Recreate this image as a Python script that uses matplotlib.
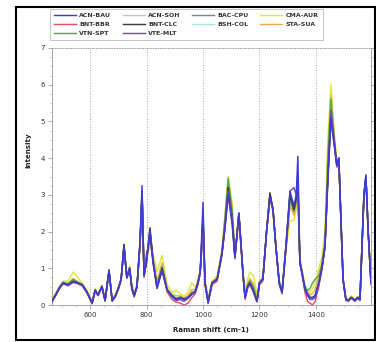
import matplotlib
matplotlib.use("Agg")
import matplotlib.pyplot as plt
from matplotlib.patches import Rectangle
from matplotlib.ticker import MultipleLocator

# Raman shift grid shared by all spectra (cm-1)
raman_shift = [465, 480, 490, 504, 522, 540, 556, 572, 589, 607,
               618, 628, 642, 653, 667, 678, 690, 700, 710, 720,
               730, 740, 748, 756, 766, 777, 784, 791, 800, 812,
               823, 837, 855, 873, 890, 905, 919, 933, 947, 960,
               972, 982, 990, 1000, 1007, 1018, 1032, 1050, 1067, 1078,
               1089, 1103, 1113, 1127, 1142, 1149, 1158, 1166, 1178, 1191,
               1200, 1212, 1225, 1237, 1248, 1258, 1270, 1280, 1294, 1308,
               1322, 1330, 1336, 1343, 1350, 1361, 1370, 1379, 1388, 1397,
               1410, 1421, 1432, 1442, 1453, 1464, 1474, 1481, 1490, 1496,
               1506, 1515, 1525, 1538, 1548, 1556, 1563, 1570, 1577, 1585, 1595]

acn_bau = [0.10, 0.30, 0.45, 0.58, 0.55, 0.62, 0.60, 0.55, 0.35, 0.05,
           0.40, 0.27, 0.50, 0.12, 0.95, 0.12, 0.25, 0.45, 0.70, 1.60,
           0.75, 1.00, 0.45, 0.25, 0.50, 1.80, 3.25, 0.80, 1.20, 2.00,
           1.15, 0.45, 0.95, 0.40, 0.25, 0.15, 0.20, 0.15, 0.20, 0.30,
           0.35, 0.60, 0.90, 2.80, 0.60, 0.05, 0.60, 0.70, 1.40, 2.10,
           3.00, 2.20, 1.30, 2.50, 0.80, 0.20, 0.50, 0.60, 0.40, 0.10,
           0.60, 0.70, 2.00, 2.95, 2.60, 1.60, 0.60, 0.35, 1.60, 3.10,
           2.70, 3.00, 4.05, 1.10, 0.90, 0.45, 0.30, 0.20, 0.20, 0.25,
           0.60, 1.00, 1.60, 3.40, 5.10, 4.40, 3.80, 4.00, 2.00, 0.70,
           0.15, 0.12, 0.20, 0.12, 0.20, 0.15, 1.60, 3.00, 3.55, 2.00, 0.60]

acn_soh = [0.10, 0.32, 0.45, 0.60, 0.55, 0.68, 0.62, 0.55, 0.35, 0.08,
           0.40, 0.27, 0.50, 0.12, 0.92, 0.15, 0.25, 0.45, 0.70, 1.60,
           0.75, 1.00, 0.45, 0.25, 0.50, 1.70, 3.05, 0.85, 1.20, 2.00,
           1.20, 0.55, 1.05, 0.40, 0.25, 0.18, 0.20, 0.15, 0.22, 0.35,
           0.38, 0.60, 0.90, 2.30, 0.60, 0.12, 0.60, 0.70, 1.40, 2.20,
           3.20, 2.40, 1.30, 2.45, 0.80, 0.22, 0.50, 0.65, 0.42, 0.12,
           0.60, 0.70, 2.00, 3.00, 2.60, 1.60, 0.60, 0.35, 1.60, 2.90,
           2.60, 2.80, 3.20, 1.20, 0.90, 0.45, 0.30, 0.22, 0.22, 0.28,
           0.62, 1.00, 1.60, 3.50, 5.30, 4.50, 3.80, 4.00, 2.00, 0.70,
           0.15, 0.12, 0.20, 0.12, 0.20, 0.15, 1.60, 3.00, 3.45, 2.00, 0.60]

bac_cpu = [0.10, 0.30, 0.45, 0.60, 0.55, 0.65, 0.60, 0.55, 0.35, 0.05,
           0.40, 0.27, 0.50, 0.12, 0.95, 0.12, 0.25, 0.45, 0.70, 1.65,
           0.75, 1.00, 0.45, 0.25, 0.50, 1.70, 3.10, 0.80, 1.20, 2.10,
           1.20, 0.50, 1.00, 0.40, 0.25, 0.15, 0.20, 0.15, 0.20, 0.30,
           0.35, 0.60, 0.90, 2.40, 0.60, 0.10, 0.60, 0.70, 1.40, 2.20,
           3.20, 2.40, 1.30, 2.50, 0.80, 0.20, 0.50, 0.60, 0.40, 0.10,
           0.60, 0.70, 2.00, 3.05, 2.60, 1.60, 0.60, 0.35, 1.60, 3.00,
           2.60, 2.90, 3.30, 1.20, 0.90, 0.45, 0.30, 0.20, 0.20, 0.25,
           0.60, 1.00, 1.60, 3.50, 5.20, 4.50, 3.80, 4.00, 2.00, 0.70,
           0.15, 0.12, 0.20, 0.12, 0.20, 0.15, 1.60, 3.00, 3.50, 2.00, 0.60]

cma_aur = [0.15, 0.35, 0.50, 0.65, 0.65, 0.90, 0.75, 0.60, 0.40, 0.10,
           0.45, 0.30, 0.55, 0.15, 0.90, 0.15, 0.30, 0.50, 0.75, 1.55,
           0.80, 1.05, 0.55, 0.35, 0.55, 1.60, 3.00, 0.90, 1.30, 1.60,
           1.40, 0.90, 1.35, 0.55, 0.35, 0.40, 0.30, 0.25, 0.35, 0.60,
           0.50, 0.70, 0.95, 2.00, 0.70, 0.20, 0.65, 0.80, 1.50, 2.50,
           3.50, 2.80, 1.50, 2.30, 0.90, 0.40, 0.70, 0.90, 0.80, 0.30,
           0.65, 0.80, 2.00, 2.90, 2.50, 1.60, 0.70, 0.45, 1.50, 2.30,
           2.30, 2.60, 2.80, 1.30, 1.00, 0.55, 0.40, 0.35, 0.45, 0.60,
           1.00, 1.30, 2.00, 4.50, 6.00, 4.80, 3.90, 3.90, 2.00, 0.75,
           0.20, 0.15, 0.25, 0.15, 0.22, 0.18, 1.50, 2.90, 3.40, 2.00, 0.65]

bnt_bbr = [0.08, 0.28, 0.42, 0.58, 0.52, 0.62, 0.58, 0.52, 0.32, 0.03,
           0.38, 0.25, 0.48, 0.10, 0.90, 0.10, 0.22, 0.42, 0.68, 1.60,
           0.72, 0.95, 0.42, 0.22, 0.48, 1.65, 3.00, 0.75, 1.15, 2.00,
           1.15, 0.45, 0.95, 0.35, 0.15, 0.08, 0.05, 0.00, 0.05, 0.20,
           0.30, 0.55, 0.85, 2.30, 0.55, 0.05, 0.55, 0.65, 1.35, 2.10,
           3.00, 2.30, 1.25, 2.40, 0.75, 0.15, 0.45, 0.55, 0.35, 0.08,
           0.55, 0.65, 1.95, 3.00, 2.55, 1.55, 0.55, 0.30, 1.55, 2.95,
           2.55, 2.85, 3.20, 1.15, 0.85, 0.35, 0.10, 0.05, 0.00, 0.10,
           0.50, 0.95, 1.55, 3.30, 5.00, 4.40, 3.75, 3.95, 1.95, 0.65,
           0.12, 0.10, 0.18, 0.10, 0.18, 0.12, 1.55, 2.95, 3.45, 1.95, 0.55]

bnt_clc = [0.10, 0.30, 0.45, 0.60, 0.55, 0.65, 0.60, 0.55, 0.35, 0.05,
           0.40, 0.27, 0.50, 0.12, 0.95, 0.12, 0.25, 0.45, 0.70, 1.65,
           0.75, 1.00, 0.45, 0.25, 0.50, 1.70, 3.10, 0.80, 1.20, 2.10,
           1.20, 0.50, 1.00, 0.40, 0.25, 0.15, 0.20, 0.15, 0.20, 0.30,
           0.35, 0.60, 0.90, 2.40, 0.60, 0.10, 0.60, 0.70, 1.40, 2.20,
           3.20, 2.40, 1.30, 2.50, 0.80, 0.20, 0.50, 0.60, 0.40, 0.10,
           0.60, 0.70, 2.00, 3.05, 2.60, 1.60, 0.60, 0.35, 1.60, 3.00,
           2.60, 2.90, 3.30, 1.20, 0.90, 0.45, 0.30, 0.20, 0.20, 0.25,
           0.60, 1.00, 1.60, 3.50, 5.20, 4.50, 3.80, 4.00, 2.00, 0.70,
           0.15, 0.12, 0.20, 0.12, 0.20, 0.15, 1.60, 3.00, 3.50, 2.00, 0.60]

bsh_col = [0.12, 0.32, 0.47, 0.62, 0.57, 0.66, 0.61, 0.56, 0.36, 0.07,
           0.41, 0.28, 0.51, 0.14, 0.93, 0.14, 0.26, 0.46, 0.71, 1.62,
           0.76, 1.01, 0.46, 0.26, 0.51, 1.72, 3.08, 0.82, 1.22, 2.05,
           1.22, 0.52, 1.02, 0.42, 0.27, 0.17, 0.22, 0.17, 0.22, 0.32,
           0.37, 0.62, 0.92, 2.35, 0.62, 0.12, 0.62, 0.72, 1.42, 2.22,
           3.15, 2.40, 1.32, 2.48, 0.82, 0.22, 0.52, 0.62, 0.42, 0.12,
           0.62, 0.72, 2.02, 3.00, 2.60, 1.62, 0.62, 0.37, 1.62, 2.95,
           2.62, 2.88, 3.25, 1.22, 0.92, 0.47, 0.32, 0.22, 0.22, 0.27,
           0.62, 1.02, 1.62, 3.55, 5.30, 4.50, 3.80, 4.00, 2.02, 0.72,
           0.17, 0.14, 0.22, 0.14, 0.22, 0.17, 1.62, 3.00, 3.50, 2.02, 0.62]

sta_sua = [0.12, 0.32, 0.47, 0.62, 0.58, 0.72, 0.64, 0.56, 0.36, 0.07,
           0.42, 0.28, 0.52, 0.14, 0.92, 0.14, 0.27, 0.47, 0.72, 1.60,
           0.77, 1.02, 0.48, 0.28, 0.52, 1.68, 3.05, 0.85, 1.25, 1.90,
           1.30, 0.65, 1.15, 0.45, 0.28, 0.25, 0.25, 0.20, 0.26, 0.42,
           0.42, 0.64, 0.92, 2.20, 0.64, 0.14, 0.62, 0.74, 1.45, 2.35,
           3.30, 2.55, 1.38, 2.42, 0.84, 0.28, 0.58, 0.72, 0.58, 0.18,
           0.62, 0.74, 2.00, 2.95, 2.55, 1.60, 0.64, 0.40, 1.55, 2.70,
           2.45, 2.75, 3.10, 1.25, 0.95, 0.50, 0.35, 0.28, 0.32, 0.42,
           0.80, 1.15, 1.80, 4.00, 5.70, 4.65, 3.85, 3.95, 2.00, 0.72,
           0.18, 0.14, 0.22, 0.14, 0.22, 0.16, 1.55, 2.95, 3.45, 2.00, 0.62]

vtn_spt = [0.12, 0.32, 0.47, 0.62, 0.58, 0.70, 0.62, 0.56, 0.36, 0.07,
           0.42, 0.28, 0.52, 0.14, 0.92, 0.14, 0.27, 0.47, 0.72, 1.60,
           0.77, 1.02, 0.48, 0.28, 0.52, 1.65, 3.00, 0.82, 1.22, 2.00,
           1.25, 0.55, 1.05, 0.42, 0.27, 0.18, 0.22, 0.17, 0.22, 0.34,
           0.38, 0.62, 0.90, 2.20, 0.62, 0.12, 0.62, 0.72, 1.45, 2.40,
           3.45, 2.60, 1.35, 2.45, 0.82, 0.24, 0.55, 0.66, 0.50, 0.15,
           0.62, 0.72, 2.00, 3.00, 2.58, 1.60, 0.62, 0.38, 1.58, 2.85,
           2.55, 2.85, 3.20, 1.22, 0.92, 0.50, 0.40, 0.45, 0.60, 0.70,
           0.80, 1.10, 1.70, 4.00, 5.60, 4.60, 3.82, 3.98, 2.00, 0.72,
           0.17, 0.14, 0.22, 0.14, 0.22, 0.17, 1.58, 2.98, 3.48, 2.00, 0.62]

vte_mlt = [0.10, 0.30, 0.45, 0.60, 0.55, 0.63, 0.60, 0.55, 0.35, 0.05,
           0.40, 0.27, 0.50, 0.12, 0.92, 0.12, 0.25, 0.45, 0.70, 1.50,
           0.75, 1.00, 0.45, 0.25, 0.50, 1.65, 3.05, 0.90, 1.40, 1.80,
           1.20, 0.50, 0.95, 0.40, 0.22, 0.12, 0.15, 0.10, 0.18, 0.28,
           0.35, 0.60, 0.90, 2.00, 0.60, 0.08, 0.60, 0.70, 1.40, 2.20,
           3.10, 2.40, 1.30, 2.50, 0.80, 0.20, 0.50, 0.60, 0.40, 0.10,
           0.60, 0.70, 2.00, 2.90, 2.60, 1.60, 0.60, 0.35, 1.70, 3.10,
           3.20, 3.00, 3.60, 1.20, 0.90, 0.40, 0.25, 0.15, 0.15, 0.20,
           0.55, 1.00, 1.60, 3.40, 5.30, 4.50, 3.80, 4.00, 2.00, 0.70,
           0.15, 0.12, 0.20, 0.12, 0.20, 0.15, 1.60, 3.00, 3.50, 2.00, 0.60]

sample_names = ["ACN-BAU", "ACN-SOH", "BAC-CPU", "CMA-AUR", "BNT-BBR",
                "BNT-CLC", "BSH-COL", "STA-SUA", "VTN-SPT", "VTE-MLT"]
spectra = [acn_bau, acn_soh, bac_cpu, cma_aur, bnt_bbr,
           bnt_clc, bsh_col, sta_sua, vtn_spt, vte_mlt]
colors = ["#3a3ad8", "#c4c4c4", "#6e8c8c", "#e4e43a", "#e0506a",
          "#3c3c3c", "#a8e4e4", "#f0a848", "#48b048", "#8048b0"]
zorders = [9, 2, 3, 4, 5, 7, 2, 4, 6, 8]

fig = plt.figure(figsize=(3.76, 3.42), dpi=100)
ax = fig.add_axes([52 / 376, 1 - 305 / 342, 319 / 376, 257 / 342])

lines = {}
for name, ys, c, z in zip(sample_names, spectra, colors, zorders):
    lines[name], = ax.plot(raman_shift, ys, color=c, lw=1.05, zorder=z,
                           label=name, solid_joinstyle="round")

ax.set_xlim(465, 1595)
ax.set_ylim(0, 7)
ax.set_xticks([600, 800, 1000, 1200, 1400])
ax.xaxis.set_minor_locator(MultipleLocator(50))
ax.yaxis.set_minor_locator(MultipleLocator(0.25))
ax.tick_params(axis="both", which="major", labelsize=5, length=3, width=0.5,
               color="#888888", labelcolor="#333333", pad=2, right=True)
ax.tick_params(axis="both", which="minor", length=1.5, width=0.4,
               color="#aaaaaa", right=True)
ax.grid(axis="x", color="#aaaaaa", linestyle=":", linewidth=0.7)
for side in ["left", "bottom", "right"]:
    ax.spines[side].set_color("#999999")
    ax.spines[side].set_linewidth(0.6)
ax.spines["top"].set_color("#aaaaaa")
ax.spines["top"].set_linestyle(":")
ax.spines["top"].set_linewidth(0.7)

fig.text(211 / 376, 1 - 330 / 342, "Raman shift (cm-1)", ha="center", va="center",
         fontsize=5, fontweight="bold", color="#222222")
fig.text(28 / 376, 1 - 150 / 342, "Intensity", ha="center", va="center",
         rotation=90, fontsize=5, fontweight="bold", color="#222222")

# legend filled column by column: 3, 3, 2, 2
legend_order = ["ACN-BAU", "BNT-BBR", "VTN-SPT", "ACN-SOH", "BNT-CLC",
                "VTE-MLT", "BAC-CPU", "BSH-COL", "CMA-AUR", "STA-SUA"]
leg = fig.legend([lines[n] for n in legend_order], legend_order, ncol=4,
                 loc="upper left", bbox_to_anchor=(50 / 376, 1 - 9 / 342),
                 fontsize=4.5, frameon=True, fancybox=False, edgecolor="#999999",
                 handlelength=3.5, handletextpad=0.6, columnspacing=1.8,
                 labelspacing=0.55, borderpad=0.6, borderaxespad=0)
leg.get_frame().set_linewidth(0.5)
for t in leg.get_texts():
    t.set_fontweight("bold")
    t.set_color("#333333")

# outer frame of the figure panel
fig.patches.append(Rectangle((16 / 376, 2 / 342), 359 / 376, 333 / 342,
                             transform=fig.transFigure, fill=False,
                             edgecolor="black", linewidth=1.5))

fig.savefig("out.png", dpi=100)
